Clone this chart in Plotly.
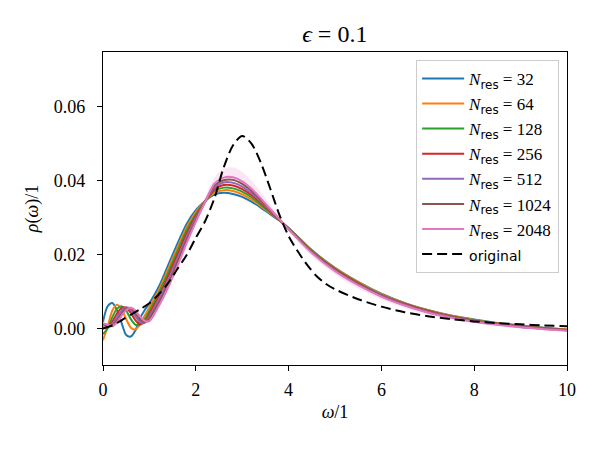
import plotly.graph_objects as go

# ---------------- data ----------------
omega = [0, 0.1, 0.2, 0.3, 0.4, 0.5, 0.6, 0.7, 0.8, 0.9, 1.0, 1.2, 1.4, 1.6, 1.8,
         2.0, 2.2, 2.4, 2.6, 2.8, 3.0, 3.2, 3.4, 3.6, 3.8, 4.0, 4.5, 5.0, 5.5,
         6.0, 6.5, 7.0, 7.5, 8.0, 8.5, 9.0, 9.5, 10.0]

n_res = [32, 64, 128, 256, 512, 1024, 2048]

rho_32 = [0.0018, 0.0060, 0.0069, 0.0050, 0.0015, -0.0018, -0.0022, -0.0005, 0.0028, 0.0050, 0.0068,
          0.0112, 0.0170, 0.0228, 0.0282, 0.0320, 0.0345, 0.0362, 0.0367, 0.0364, 0.0356, 0.0343,
          0.0327, 0.0309, 0.0292, 0.0272, 0.0212, 0.0164, 0.0126, 0.0094, 0.0069, 0.0050, 0.0035,
          0.0024, 0.0015, 0.0008, 0.0002, -0.0003]
rho_64 = [-0.0032, 0.0005, 0.0048, 0.0064, 0.0052, 0.0025, 0.0002, -0.0003, 0.0012, 0.0035, 0.0058,
          0.0103, 0.0160, 0.0218, 0.0273, 0.0315, 0.0345, 0.0367, 0.0374, 0.0372, 0.0363, 0.0349,
          0.0331, 0.0312, 0.0293, 0.0271, 0.0211, 0.0163, 0.0125, 0.0093, 0.0068, 0.0049, 0.0034,
          0.0023, 0.0014, 0.0007, 0.0001, -0.0003]
rho_128 = [-0.0015, 0.0000, 0.0030, 0.0053, 0.0060, 0.0048, 0.0025, 0.0010, 0.0010, 0.0025, 0.0048,
           0.0095, 0.0150, 0.0208, 0.0265, 0.0309, 0.0344, 0.0372, 0.0381, 0.0379, 0.0370, 0.0355,
           0.0335, 0.0314, 0.0293, 0.0271, 0.0210, 0.0161, 0.0123, 0.0091, 0.0067, 0.0048, 0.0033,
           0.0022, 0.0013, 0.0006, 0.0001, -0.0004]
rho_256 = [0.0000, 0.0005, 0.0018, 0.0040, 0.0055, 0.0056, 0.0042, 0.0022, 0.0012, 0.0018, 0.0040,
           0.0086, 0.0140, 0.0198, 0.0256, 0.0304, 0.0344, 0.0377, 0.0388, 0.0387, 0.0377, 0.0361,
           0.0340, 0.0317, 0.0294, 0.0270, 0.0208, 0.0160, 0.0122, 0.0090, 0.0066, 0.0047, 0.0032,
           0.0021, 0.0013, 0.0006, 0.0000, -0.0004]
rho_512 = [0.0008, 0.0006, 0.0012, 0.0030, 0.0048, 0.0057, 0.0050, 0.0032, 0.0017, 0.0016, 0.0033,
           0.0077, 0.0130, 0.0188, 0.0247, 0.0299, 0.0343, 0.0382, 0.0395, 0.0394, 0.0384, 0.0366,
           0.0344, 0.0319, 0.0295, 0.0269, 0.0207, 0.0158, 0.0120, 0.0089, 0.0064, 0.0045, 0.0031,
           0.0020, 0.0012, 0.0005, -0.0001, -0.0005]
rho_1024 = [0.0012, 0.0008, 0.0008, 0.0022, 0.0040, 0.0054, 0.0055, 0.0040, 0.0024, 0.0016, 0.0027,
            0.0069, 0.0120, 0.0178, 0.0239, 0.0293, 0.0343, 0.0387, 0.0401, 0.0402, 0.0391, 0.0372,
            0.0348, 0.0322, 0.0295, 0.0269, 0.0206, 0.0157, 0.0119, 0.0087, 0.0063, 0.0044, 0.0030,
            0.0019, 0.0011, 0.0004, -0.0001, -0.0005]
rho_2048 = [0.0014, 0.0010, 0.0006, 0.0016, 0.0034, 0.0050, 0.0056, 0.0048, 0.0032, 0.0020, 0.0020,
            0.0060, 0.0110, 0.0168, 0.0230, 0.0288, 0.0342, 0.0392, 0.0408, 0.0409, 0.0398, 0.0378,
            0.0352, 0.0324, 0.0296, 0.0268, 0.0204, 0.0155, 0.0117, 0.0086, 0.0062, 0.0043, 0.0029,
            0.0018, 0.0010, 0.0003, -0.0002, -0.0006]

# faint spread of the N_res = 2048 reconstructions
rho_2048_hi = [0.0016, 0.0012, 0.0008, 0.0018, 0.0036, 0.0053, 0.0060, 0.0052, 0.0036, 0.0024, 0.0024,
               0.0064, 0.0116, 0.0176, 0.0240, 0.0298, 0.0355, 0.0408, 0.0432, 0.0436, 0.0424, 0.0400,
               0.0370, 0.0336, 0.0302, 0.0270, 0.0205, 0.0156, 0.0118, 0.0087, 0.0063, 0.0044, 0.0030,
               0.0019, 0.0011, 0.0004, -0.0001, -0.0005]
rho_2048_lo = [0.0010, 0.0006, 0.0003, 0.0012, 0.0030, 0.0046, 0.0052, 0.0044, 0.0028, 0.0016, 0.0016,
               0.0056, 0.0104, 0.0160, 0.0222, 0.0282, 0.0336, 0.0385, 0.0402, 0.0402, 0.0392, 0.0372,
               0.0347, 0.0320, 0.0292, 0.0263, 0.0196, 0.0146, 0.0108, 0.0078, 0.0055, 0.0037, 0.0024,
               0.0014, 0.0006, 0.0000, -0.0005, -0.0009]

omega_orig = [0, 0.2, 0.4, 0.6, 0.8, 1.0, 1.2, 1.4, 1.6, 1.8, 2.0, 2.2, 2.4, 2.6, 2.8, 3.0,
              3.2, 3.4, 3.6, 3.8, 4.0, 4.2, 4.4, 4.6, 4.8, 5.0, 5.5, 6.0, 6.5, 7.0, 7.5,
              8.0, 8.5, 9.0, 9.5, 10.0]
rho_original = [0.0000, 0.0008, 0.0022, 0.0037, 0.0052, 0.0068, 0.0092, 0.0122, 0.0160, 0.0198,
                0.0245, 0.0290, 0.0352, 0.0435, 0.0495, 0.0521, 0.0500, 0.0449, 0.0380, 0.0308,
                0.0250, 0.0208, 0.0172, 0.0142, 0.0121, 0.0106, 0.0079, 0.0059, 0.0044, 0.0033,
                0.0025, 0.0019, 0.0014, 0.0011, 0.0008, 0.0006]

series = [rho_32, rho_64, rho_128, rho_256, rho_512, rho_1024, rho_2048]
colors = ["#1f77b4", "#ff7f0e", "#2ca02c", "#d62728", "#9467bd", "#8c564b", "#e377c2"]

SERIF = "Liberation Serif, DejaVu Serif, serif"
SANS = "DejaVu Sans, sans-serif"

fig = go.Figure()

# faint band behind the 2048 curve
fig.add_trace(go.Scatter(x=omega, y=rho_2048_lo, mode="lines", line=dict(width=0, shape="spline"),
                         showlegend=False, hoverinfo="skip"))
fig.add_trace(go.Scatter(x=omega, y=rho_2048_hi, mode="lines", line=dict(width=0, shape="spline"),
                         fill="tonexty", fillcolor="rgba(227,119,194,0.18)",
                         showlegend=False, hoverinfo="skip"))

for n, y, c in zip(n_res, series, colors):
    fig.add_trace(go.Scatter(
        x=omega, y=y, mode="lines",
        line=dict(color=c, width=2, shape="spline", smoothing=0.8),
        name=f"<i>N</i><sub><span style='font-family:{SANS}'>res</span></sub> = {n}",
    ))

fig.add_trace(go.Scatter(
    x=omega_orig, y=rho_original, mode="lines",
    line=dict(color="black", width=2, dash="10px,5px", shape="spline", smoothing=0.8),
    name=f"<span style='font-family:{SANS};font-size:14px'>original</span>",
))

fig.update_layout(
    width=600, height=450,
    margin=dict(l=103, r=33, t=52, b=85),
    paper_bgcolor="white", plot_bgcolor="white",
    font=dict(family=SERIF, size=17, color="black"),
    title=dict(text="<i>ϵ</i> = 0.1", x=0.558, xanchor="center", y=0.925, yanchor="middle",
               font=dict(family=SERIF, size=24)),
    showlegend=True,
    legend=dict(x=0.983, xanchor="right", y=0.975, yanchor="top", traceorder="normal",
                bgcolor="rgba(255,255,255,0.85)", bordercolor="#cccccc", borderwidth=1,
                font=dict(family=SERIF, size=17), tracegroupgap=0, itemwidth=42),
)

fig.update_xaxes(
    range=[0, 10], tickvals=[0, 2, 4, 6, 8, 10], ticktext=["0", "2", "4", "6", "8", "10"],
    showgrid=False, zeroline=False, showline=True, linecolor="black", linewidth=1.2, mirror=True,
    ticks="outside", ticklen=5, tickwidth=1.2, tickcolor="black", ticklabelstandoff=3,
    tickfont=dict(family=SERIF, size=18),
    title=dict(text="<i>ω</i>/1", font=dict(family=SERIF, size=18), standoff=6),
)
fig.update_yaxes(
    range=[-0.0099, 0.0748], tickvals=[0.0, 0.02, 0.04, 0.06],
    ticktext=["0.00", "0.02", "0.04", "0.06"],
    showgrid=False, zeroline=False, showline=True, linecolor="black", linewidth=1.2, mirror=True,
    ticks="outside", ticklen=5, tickwidth=1.2, tickcolor="black", ticklabelstandoff=8,
    tickfont=dict(family=SERIF, size=18),
    title=dict(text="<i>ρ</i>(<i>ω</i>)/1", font=dict(family=SERIF, size=18), standoff=10),
)

fig.write_html("out.html")
